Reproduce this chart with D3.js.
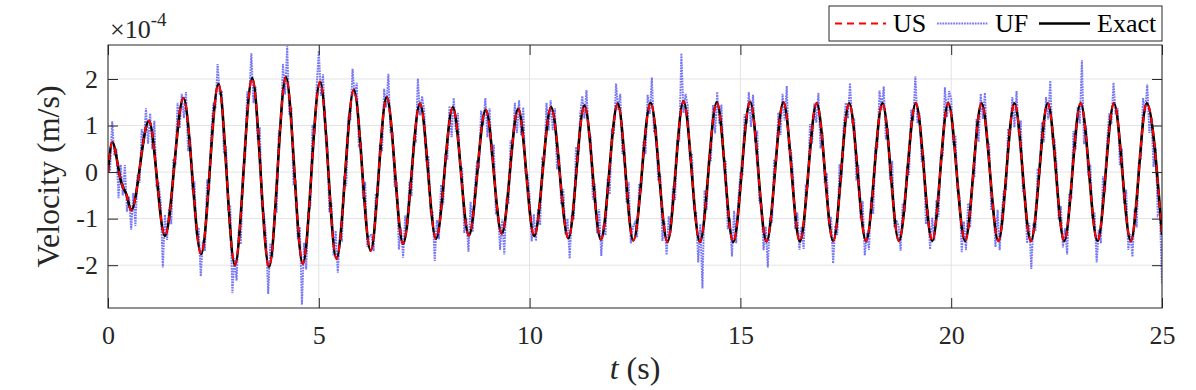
<!DOCTYPE html>
<html>
<head>
<meta charset="utf-8">
<script src="https://cdn.jsdelivr.net/npm/d3@7"></script>
<style>
  body { margin: 0; background: #fff; }
  svg { display: block; }
</style>
</head>
<body>
<div id="chart"></div>
<script>

// velocities are in units of 1e-4 m/s, time in s
var xTicks = [0, 5, 10, 15, 20, 25];
var yTicks = [-2, -1, 0, 1, 2];
var yLimits = [-2.92, 2.73];

// Exact solution: start, turning points and end
var exactT = [0, 0.10, 0.32, 0.44, 0.55, 0.97, 1.35, 1.79, 2.21, 2.62,
  3.01, 3.42, 3.82, 4.22, 4.62, 5.03, 5.42, 5.83, 6.23, 6.61,
  7.00, 7.40, 7.78, 8.18, 8.56, 8.96, 9.34, 9.73, 10.11, 10.51,
  10.92, 11.30, 11.69, 12.09, 12.46, 12.87, 13.27, 13.65, 14.04, 14.44,
  14.83, 15.23, 15.62, 16.02, 16.41, 16.81, 17.20, 17.58, 17.98, 18.37,
  18.76, 19.16, 19.55, 19.93, 20.33, 20.72, 21.12, 21.50, 21.89, 22.29,
  22.68, 23.07, 23.47, 23.86, 24.26, 24.64, 25.00];
var exactV = [0, 0.64, -0.24, -0.49, -0.82, 1.10, -1.37, 1.59, -1.76, 1.89,
  -2.00, 2.02, -2.04, 2.04, -1.97, 1.94, -1.86, 1.77, -1.69, 1.61,
  -1.54, 1.47, -1.43, 1.39, -1.36, 1.34, -1.32, 1.36, -1.37, 1.39,
  -1.42, 1.43, -1.45, 1.47, -1.47, 1.49, -1.50, 1.52, -1.50, 1.50,
  -1.50, 1.51, -1.49, 1.50, -1.49, 1.48, -1.48, 1.48, -1.48, 1.48,
  -1.48, 1.48, -1.48, 1.48, -1.48, 1.48, -1.48, 1.48, -1.48, 1.48,
  -1.48, 1.48, -1.48, 1.48, -1.48, 1.48, -1.35];

// US sits on top of Exact (same points within line width)
var usT = exactT.slice();
var usV = exactV.slice();

// UF: noisy signal, sampled every 0.05 s from t = 0
var ufStep = 0.05;
var ufV = [
  0, 0.04, 1.09, 0.35, 0.51, -0.56, 0.16, -0.50, 0.15, -0.85,
  -0.53, -1.24, -0.45, -1.16, -0.06, -0.23, 0.92, 0.62, 1.37, 0.61,
  1.26, 0.49, 1.10, -0.28, -0.25, -0.65, -2.05, -0.92, -1.46, -0.76,
  -1.12, 0.28, 0.21, 1.49, 0.94, 1.68, 1.16, 1.72, 0.45, 0.75,
  -0.39, -0.20, -1.34, -1.19, -2.24, -1.47, -1.69, -0.16, -0.40, 0.83,
  1.49, 1.36, 2.32, 1.65, 1.75, 0.40, 0.56, -0.82, -0.71, -2.60,
  -1.85, -2.33, -1.24, -1.55, 0.00, 0.24, 1.73, 1.62, 2.55, 1.48,
  1.83, 0.70, 0.96, -0.73, -0.92, -1.42, -2.62, -1.53, -1.83, -0.81,
  -0.84, 0.86, 0.98, 2.32, 1.67, 2.70, 1.24, 1.38, -0.25, -0.21,
  -1.44, -1.18, -2.85, -1.52, -2.09, -0.88, -0.74, 1.01, 0.80, 1.86,
  2.60, 1.64, 2.10, 0.94, 0.67, -0.86, -0.66, -1.79, -1.26, -2.16,
  -1.38, -1.45, -0.09, -0.30, 1.16, 1.14, 2.22, 1.63, 1.92, 0.58,
  0.64, -0.58, -0.21, -1.61, -1.36, -1.35, -1.70, -0.49, -0.49, 0.61,
  0.45, 1.79, 1.39, 2.11, 0.86, 0.86, -0.32, -0.22, -1.66, -1.19,
  -1.84, -0.93, -1.22, -0.21, -0.52, 0.74, 0.68, 2.01, 1.22, 1.63,
  1.32, 0.21, 0.35, -0.85, -0.87, -1.91, -1.03, -1.44, -0.27, -0.70,
  0.35, 0.30, 1.42, 0.75, 1.59, 0.87, 1.27, 0.12, 0.08, -1.31,
  -0.99, -1.71, -0.64, -1.29, -0.34, 0.20, 0.13, 1.32, 1.01, 1.59,
  0.75, 1.37, 0.32, 0.59, -0.87, -0.82, -1.67, -1.02, -1.77, -0.61,
  -0.65, 0.68, 0.57, 1.49, 0.84, 1.54, 0.79, 1.39, -0.03, -0.06,
  -0.52, -1.49, -0.91, -1.48, -0.79, -1.14, 0.28, 0.22, 1.49, 0.89,
  1.54, 0.90, 1.37, 0.06, 0.37, -0.69, -0.37, -1.34, -1.00, -1.86,
  -0.92, -1.02, 0.54, 0.22, 1.25, 1.63, 1.15, 1.76, 0.85, 0.76,
  -0.59, -0.25, -1.31, -0.80, -1.80, -1.14, -1.36, -0.14, -0.48, 0.89,
  0.82, 1.90, 1.34, 1.68, 0.39, 0.51, -0.66, -0.22, -1.53, -1.18,
  -1.08, -1.41, -0.25, -0.34, 0.65, 0.39, 1.66, 1.25, 2.03, 0.85,
  0.93, -0.19, -0.05, -1.48, -1.06, -1.78, -0.95, -1.30, -0.31, -0.60,
  0.70, 0.68, 2.55, 1.27, 1.68, 1.42, 0.27, 0.40, -0.82, -0.87,
  -1.94, -1.12, -2.50, -0.39, -0.81, 0.27, 0.26, 1.44, 0.83, 1.72,
  1.03, 1.45, 0.30, 0.22, -1.23, -1.00, -1.81, -0.83, -1.53, -0.60,
  -0.03, -0.04, 1.24, 1.04, 1.72, 0.97, 1.66, 0.64, 0.89, -0.64,
  -0.69, -1.68, -1.17, -2.05, -0.98, -1.08, 0.27, 0.23, 1.28, 0.80,
  1.68, 1.11, 1.85, 0.50, 0.47, -0.09, -1.22, -0.87, -1.67, -1.17,
  -1.65, -0.30, -0.34, 1.03, 0.61, 1.47, 1.06, 1.70, 0.51, 0.85,
  -0.24, -0.02, -1.15, -0.96, -1.96, -1.15, -1.35, 0.17, -0.13, 0.99,
  1.49, 1.15, 1.91, 1.08, 1.12, -0.18, 0.15, -0.99, -0.62, -1.79,
  -1.31, -1.67, -0.54, -0.90, 0.52, 0.54, 1.75, 1.34, 1.84, 0.70,
  0.94, -0.17, 0.24, -1.19, -1.03, -1.15, -1.69, -0.67, -0.85, 0.13,
  -0.06, 1.34, 1.10, 2.06, 1.05, 1.26, 0.21, 0.36, -1.12, -0.81,
  -1.66, -0.98, -1.47, -0.60, -0.96, 0.32, 0.36, 1.82, 1.18, 1.74,
  1.58, 0.59, 0.79, -0.41, -0.52, -1.72, -1.06, -1.68, -0.67, -1.19,
  -0.15, -0.12, 1.14, 0.65, 1.68, 1.14, 1.70, 0.65, 0.63, -0.82,
  -0.67, -1.61, -0.81, -1.68, -0.89, -0.38, -0.40, 0.93, 0.82, 1.61,
  0.96, 1.74, 0.85, 1.11, -0.41, -0.48, -1.53, -1.10, -2.08, -1.10,
  -1.26, 0.04, 0.00, 1.07, 0.64, 1.61, 1.13, 1.96, 0.69, 0.69,
  0.14, -1.02, -0.73, -1.62, -1.21, -1.77, -0.46, -0.52, 0.88, 0.49,
  1.40, 1.04, 2.40, 0.60, 0.99, -0.07, 0.16, -0.99, -0.86, -1.94,
  -1.24, -1.53, -0.09, -0.43, 0.69, 1.26, 1.03, 1.92, 1.23, 1.37,
  0.15, 0.50, -0.68, -0.38, -1.67, -1.33, -1.82, -0.79, -1.19, 0.22,
  0.29, 1.59, 1.28, 1.88, 0.84, 1.16, 0.11, 0.53, -0.92, -0.84,
  -2.40];

var legendItems = [
  {name: "US", color: "#ff0000", width: 2, dash: "7,5"},
  {name: "UF", color: "#7878f6", width: 2, dash: "1.8,0.9"},
  {name: "Exact", color: "#000000", width: 2.6, dash: null}
];

(function() {

var W = 1196, H = 390;
var pLeft = 108, pRight = 1162, pTop = 45, pBottom = 308;
var serif = "'Liberation Serif', 'Noto Serif', 'Nimbus Roman', 'Nimbus Roman No9 L', " +
  "FreeSerif, Tinos, 'Times New Roman', Times, 'DejaVu Serif', serif";
var ink = "#262626";

var svg = d3.select("#chart").append("svg")
  .attr("width", W).attr("height", H)
  .attr("font-family", serif)
  .style("font-family", serif);

var x = d3.scaleLinear().domain([0, 25]).range([pLeft, pRight]);
var y = d3.scaleLinear().domain(yLimits).range([pBottom, pTop]);

// grid
svg.append("g").selectAll("line")
  .data(yTicks).enter().append("line")
  .attr("x1", pLeft).attr("x2", pRight)
  .attr("y1", function(d) { return y(d); }).attr("y2", function(d) { return y(d); })
  .style("stroke", "#e3e3e3").style("stroke-width", 1);
svg.append("g").selectAll("line")
  .data(xTicks).enter().append("line")
  .attr("y1", pTop).attr("y2", pBottom)
  .attr("x1", function(d) { return x(d); }).attr("x2", function(d) { return x(d); })
  .style("stroke", "#e3e3e3").style("stroke-width", 1);

svg.append("clipPath").attr("id", "plotclip")
  .append("rect").attr("x", pLeft).attr("y", pTop)
  .attr("width", pRight - pLeft).attr("height", pBottom - pTop);

var plot = svg.append("g").attr("clip-path", "url(#plotclip)");

var ufLine = d3.line()
  .x(function(d, i) { return x(i * ufStep); })
  .y(function(d) { return y(d); });

var smooth = d3.line()
  .x(function(d) { return x(d[0]); })
  .y(function(d) { return y(d[1]); })
  .curve(d3.curveMonotoneX);

plot.append("path")
  .attr("d", ufLine(ufV))
  .style("fill", "none")
  .style("stroke", legendItems[1].color)
  .style("stroke-width", legendItems[1].width)
  .style("stroke-dasharray", legendItems[1].dash);

plot.append("path")
  .attr("d", smooth(d3.zip(exactT, exactV)))
  .style("fill", "none")
  .style("stroke", legendItems[2].color)
  .style("stroke-width", legendItems[2].width);

plot.append("path")
  .attr("d", smooth(d3.zip(usT, usV)))
  .style("fill", "none")
  .style("stroke", legendItems[0].color)
  .style("stroke-width", legendItems[0].width)
  .style("stroke-dasharray", legendItems[0].dash);

// axes, ticks pointing inwards on all four sides
var tickLen = 10;
var xb = svg.append("g").attr("transform", "translate(0," + pBottom + ")")
  .call(d3.axisBottom(x).tickValues(xTicks).tickSize(-tickLen).tickPadding(18)
    .tickFormat(function(d) { return String(d); }));
var xt = svg.append("g").attr("transform", "translate(0," + pTop + ")")
  .call(d3.axisTop(x).tickValues(xTicks).tickSize(-tickLen).tickFormat(""));
var yl = svg.append("g").attr("transform", "translate(" + pLeft + ",0)")
  .call(d3.axisLeft(y).tickValues(yTicks).tickSize(-tickLen).tickPadding(10)
    .tickFormat(function(d) { return String(d); }));
var yr = svg.append("g").attr("transform", "translate(" + pRight + ",0)")
  .call(d3.axisRight(y).tickValues(yTicks).tickSize(-tickLen).tickFormat(""));

[xb, xt, yl, yr].forEach(function(g) {
  g.attr("font-family", serif).attr("font-size", 26);
  g.select(".domain").remove();
  g.selectAll(".tick line").style("stroke", ink).style("stroke-width", 1);
  g.selectAll(".tick text").style("fill", ink);
});

svg.append("rect")
  .attr("x", pLeft).attr("y", pTop)
  .attr("width", pRight - pLeft).attr("height", pBottom - pTop)
  .style("fill", "none").style("stroke", ink).style("stroke-width", 1);

// exponent
var expo = svg.append("text").attr("x", 110).attr("y", 38)
  .attr("font-size", 26).style("fill", ink);
expo.append("tspan").text("\u00d710");
expo.append("tspan").attr("dy", -12).attr("font-size", 19).text("-4");

// axis labels
svg.append("text")
  .attr("transform", "translate(59," + ((pTop + pBottom) / 2) + ") rotate(-90)")
  .attr("text-anchor", "middle")
  .attr("font-size", 32).style("fill", ink)
  .text("Velocity (m/s)");

var xl = svg.append("text")
  .attr("x", (pLeft + pRight) / 2).attr("y", 379)
  .attr("text-anchor", "middle")
  .attr("font-size", 32).style("fill", ink);
xl.append("tspan").style("font-style", "italic").text("t");
xl.append("tspan").text(" (s)");

// legend
var lg = svg.append("g");
lg.append("rect")
  .attr("x", 829).attr("y", 6).attr("width", 333).attr("height", 35)
  .style("fill", "#fff").style("stroke", ink).style("stroke-width", 1);
var legendX = [835, 937, 1039];
legendItems.forEach(function(it, i) {
  lg.append("line")
    .attr("x1", legendX[i]).attr("x2", legendX[i] + 51)
    .attr("y1", 23.5).attr("y2", 23.5)
    .style("stroke", it.color).style("stroke-width", it.width)
    .style("stroke-dasharray", it.dash);
  lg.append("text")
    .attr("x", legendX[i] + 58).attr("y", 32)
    .attr("font-size", 26).style("fill", "#000")
    .text(it.name);
});

})();
</script>
</body>
</html>
